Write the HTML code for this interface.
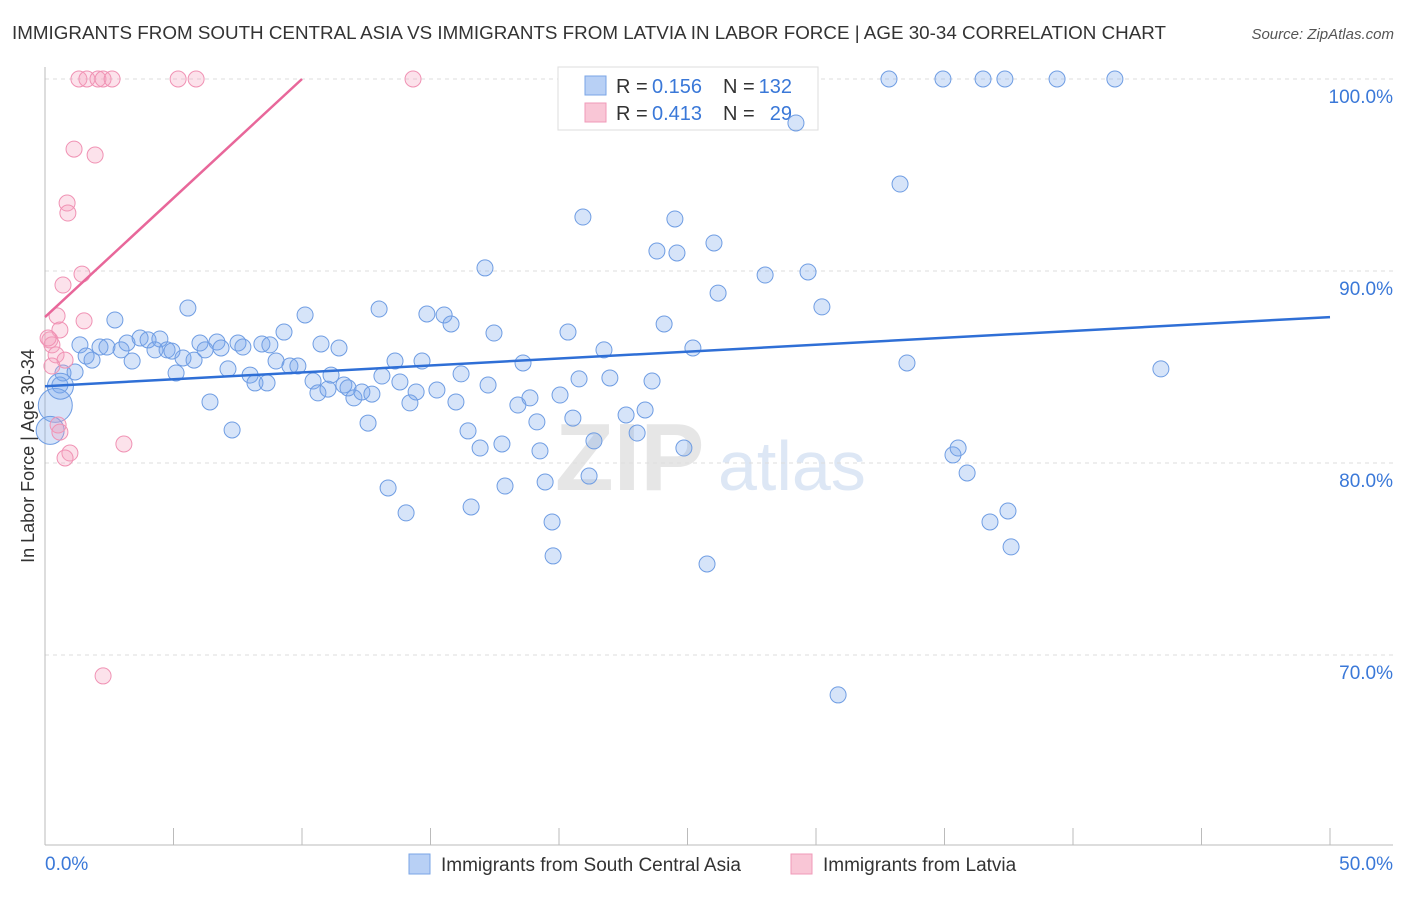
<!DOCTYPE html>
<html><head><meta charset="utf-8"><style>
body{margin:0;background:#fff;font-family:"Liberation Sans",sans-serif}
svg text{font-family:"Liberation Sans",sans-serif}
</style></head><body>
<svg id="c" width="1406" height="892">
<text x="12" y="39" font-size="18.8" fill="#333" textLength="1154">IMMIGRANTS FROM SOUTH CENTRAL ASIA VS IMMIGRANTS FROM LATVIA IN LABOR FORCE | AGE 30-34 CORRELATION CHART</text>
<text x="1394" y="39" font-size="15" fill="#555" font-style="italic" text-anchor="end">Source: ZipAtlas.com</text>
<text x="555" y="490" font-size="96" fill="#e6e6e6" font-family="Liberation Serif" font-weight="bold">ZIP</text>
<text x="718" y="490" font-size="70" fill="#dde7f5">atlas</text>
<g id="grid"></g>
<g>
<rect x="558" y="67" width="260" height="63" fill="#fff" stroke="#ddd"/>
<rect x="585" y="76" width="21" height="19" fill="#b8d0f5" stroke="#7aa5e6"/>
<text x="616" y="93" font-size="20" fill="#333">R =</text>
<text x="652" y="93" font-size="20" fill="#3a78d8">0.156</text>
<text x="723" y="93" font-size="20" fill="#333">N =</text>
<text x="792" y="93" font-size="20" fill="#3a78d8" text-anchor="end">132</text>
<rect x="585" y="103" width="21" height="19" fill="#f9c6d6" stroke="#f09ab8"/>
<text x="616" y="120" font-size="20" fill="#333">R =</text>
<text x="652" y="120" font-size="20" fill="#3a78d8">0.413</text>
<text x="723" y="120" font-size="20" fill="#333">N =</text>
<text x="792" y="120" font-size="20" fill="#3a78d8" text-anchor="end">29</text>
</g>
<g id="pts"></g><g id="lines"></g>
<text transform="translate(34,456) rotate(-90)" font-size="18" fill="#333" text-anchor="middle">In Labor Force | Age 30-34</text>
<g>
<rect x="409" y="854" width="21" height="20" fill="#b8d0f5" stroke="#7aa5e6"/>
<text x="441" y="871" font-size="19" fill="#333">Immigrants from South Central Asia</text>
<rect x="791" y="854" width="21" height="20" fill="#f9c6d6" stroke="#f09ab8"/>
<text x="823" y="871" font-size="19" fill="#333">Immigrants from Latvia</text>
</g>
</svg>
<script>
const yTicks=[100,90,80,70];
const xTickLabels=["0.0%","50.0%"];
const bluePx=[[889,79],[943,79],[983,79],[1005,79],[1057,79],[1115,79],[796,123],[900,184],[583,217],[675,219],[714,243],[657,251],[677,253],[485,268],[765,275],[808,272],[718,293],[822,307],[188,308],[379,309],[305,315],[427,314],[444,315],[451,324],[664,324],[115,320],[494,333],[568,332],[284,332],[80,345],[100,347],[107,347],[127,343],[140,338],[148,340],[160,339],[200,343],[217,342],[238,343],[262,344],[270,345],[321,344],[339,348],[604,350],[693,348],[86,356],[92,360],[121,350],[132,361],[155,350],[167,350],[172,351],[183,358],[194,360],[205,350],[221,348],[243,347],[276,361],[290,366],[298,366],[395,361],[422,361],[523,363],[907,363],[1161,369],[63,373],[176,373],[228,369],[250,375],[255,383],[267,383],[313,381],[318,393],[328,389],[331,375],[344,385],[348,388],[354,398],[362,392],[372,394],[382,376],[400,382],[416,392],[410,403],[437,390],[456,402],[461,374],[488,385],[518,405],[530,398],[560,395],[579,379],[610,378],[652,381],[537,422],[573,418],[626,415],[645,410],[210,402],[232,430],[368,423],[468,431],[480,448],[502,444],[540,451],[594,441],[637,433],[684,448],[953,455],[958,448],[967,473],[388,488],[406,513],[471,507],[505,486],[545,482],[589,476],[552,522],[553,556],[707,564],[990,522],[1008,511],[1011,547],[838,695],[60,385],[75,372]];
const pinkPx=[[79,79],[87,79],[98,79],[103,79],[112,79],[178,79],[196,79],[413,79],[74,149],[95,155],[67,203],[68,213],[82,274],[63,285],[57,316],[84,321],[60,330],[50,340],[52,345],[56,355],[65,360],[58,425],[60,432],[70,453],[65,458],[124,444],[103,676],[52,366],[48,338]];
const blueX=bluePx.map(p=>+((p[0]-45)/1285*50).toFixed(2));
const blueY=bluePx.map(p=>+(100-(p[1]-79)/19.2).toFixed(2));
const pinkX=pinkPx.map(p=>+((p[0]-45)/1285*50).toFixed(2));
const pinkY=pinkPx.map(p=>+(100-(p[1]-79)/19.2).toFixed(2));
const bigBlueX=[0.4,0.2,0.6],bigBlueY=[83.0,81.7,84.0],bigBlueR=[17,14,13];
const blueTrend=[[0,84.0],[50,87.6]];
const pinkTrend=[[0,87.6],[10,100]];
const X=v=>45+v/50*1285, Y=v=>79+(100-v)*19.2;
const NS="http://www.w3.org/2000/svg";
function mk(t,a,p){const e=document.createElementNS(NS,t);for(const k in a)e.setAttribute(k,a[k]);p.appendChild(e);return e;}
const g=document.getElementById('grid');
yTicks.forEach(v=>{const l=mk('line',{x1:45,x2:1393,y1:Y(v),y2:Y(v),stroke:'#ddd','stroke-dasharray':'4,4'},g);


const t=mk('text',{x:1393,y:Y(v)+24,'font-size':19,fill:'#3a78d8','text-anchor':'end'},g);t.textContent=v.toFixed(1)+'%';

});
mk('line',{x1:45,x2:45,y1:67,y2:845,stroke:'#bbb'},g);
mk('line',{x1:45,x2:1393,y1:845,y2:845,stroke:'#bbb'},g);
for(let i=0;i<=10;i++){mk('line',{x1:X(i*5),x2:X(i*5),y1:828,y2:845,stroke:'#bbb'},g);}
const t0=mk('text',{x:45,y:870,'font-size':19,fill:'#3a78d8'},g);t0.textContent=xTickLabels[0];


const t1=mk('text',{x:1393,y:870,'font-size':19,fill:'#3a78d8','text-anchor':'end'},g);t1.textContent=xTickLabels[1];


const P=document.getElementById('pts');
blueX.forEach((x,i)=>{const c=mk('circle',{cx:X(x),cy:Y(blueY[i]),r:8,fill:'rgba(120,165,235,0.3)',stroke:'#6f9de3','stroke-width':1},P);

});
bigBlueX.forEach((x,i)=>{const c=mk('circle',{cx:X(x),cy:Y(bigBlueY[i]),r:bigBlueR[i],fill:'rgba(120,165,235,0.3)',stroke:'#6f9de3'},P);

});
pinkX.forEach((x,i)=>{const c=mk('circle',{cx:X(x),cy:Y(pinkY[i]),r:8,fill:'rgba(245,160,190,0.3)',stroke:'#f092b4'},P);

});
const L=document.getElementById('lines');
const bl=mk('line',{x1:X(blueTrend[0][0]),y1:Y(blueTrend[0][1]),x2:X(blueTrend[1][0]),y2:Y(blueTrend[1][1]),stroke:'#2f6fd6','stroke-width':2.5},L);


const pl=mk('line',{x1:X(pinkTrend[0][0]),y1:Y(pinkTrend[0][1]),x2:X(pinkTrend[1][0]),y2:Y(pinkTrend[1][1]),stroke:'#e8679a','stroke-width':2.5},L);


</script>
</body></html>
